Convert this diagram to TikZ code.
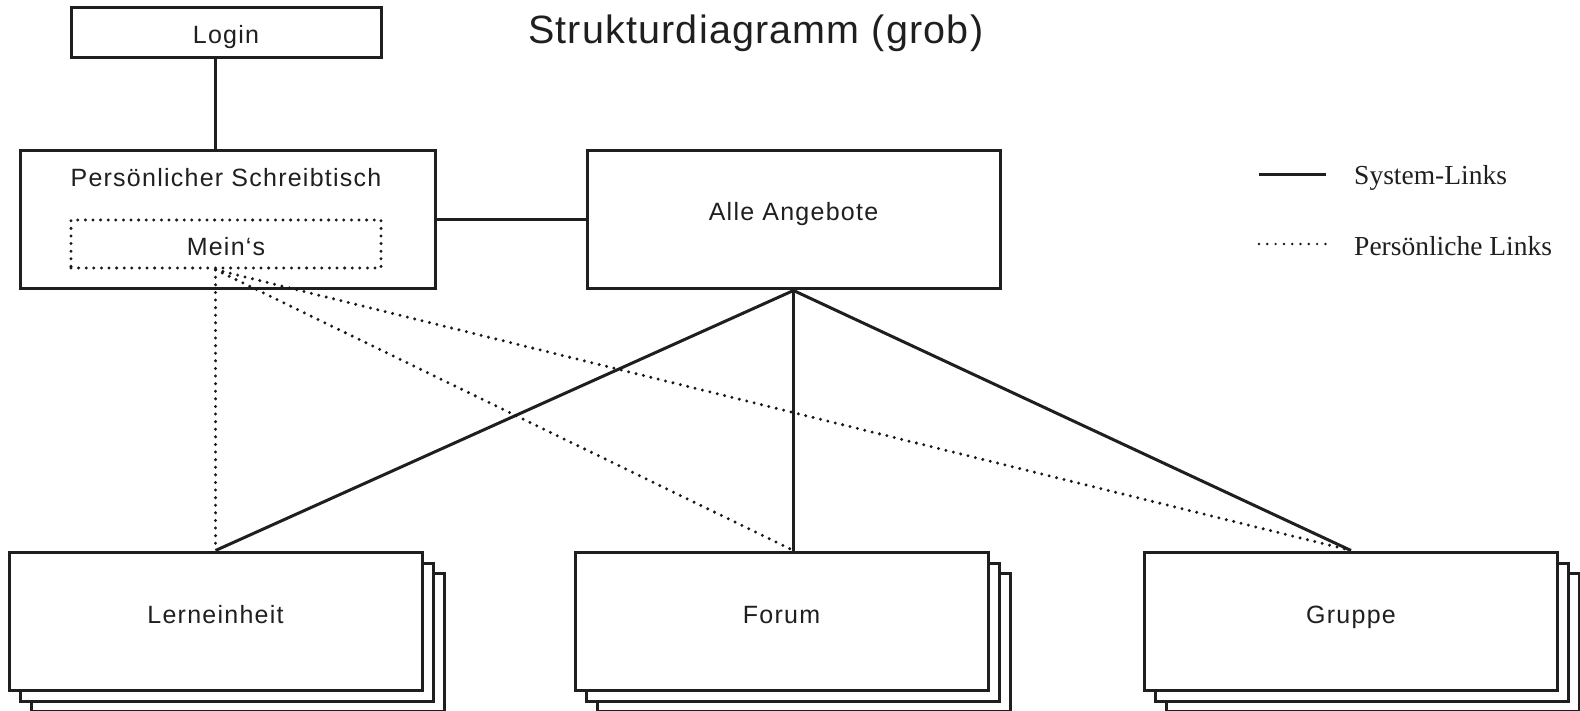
\documentclass[tikz,border=0pt]{standalone}
\usepackage{fontspec}
\setmainfont{Liberation Serif}
\newfontfamily\diafont[LetterSpace=5]{Liberation Sans}
\newfontfamily\titlefont[LetterSpace=3]{Liberation Sans}
\usetikzlibrary{calc}

\begin{document}
\begin{tikzpicture}[x=1pt,y=-1pt,
    box/.style={draw=black!88, line width=3pt, fill=white, inner sep=0pt},
    backbox/.style={draw=black!88, line width=3pt, fill=white},
    syslink/.style={draw=black!88, line width=3pt},
    perslink/.style={draw=black!90, line width=3.3pt, line cap=round, dash pattern=on 0pt off 7.6pt},
    boxtext/.style={font=\diafont\fontsize{25}{29}\selectfont, text=black!88, anchor=base, inner sep=0pt},
    legtext/.style={font=\fontsize{27.5}{32}\selectfont, text=black!88, anchor=base west, inner sep=0pt}]
  \useasboundingbox (0,0) rectangle (1580,711);

  % Title
  \node[font=\titlefont\fontsize{39.5}{46}\selectfont, text=black!88, anchor=base west, inner sep=0pt] (title) at (528,44) {Strukturdiagramm (grob)};

  % Login
  \node[box, minimum width=310, minimum height=50] (login) at (226,33) {};
  \node[boxtext] (logintxt) at (226,44) {Login};

  % Persoenlicher Schreibtisch with Mein's
  \node[box, minimum width=415, minimum height=138] (ps) at (227.5,220) {};
  \node[boxtext] (pstxt) at (226,187) {Persönlicher Schreibtisch};
  \node[box, perslink, fill=none, minimum width=310, minimum height=48] (meins) at (226,244) {};
  \node[boxtext] (meinstxt) at (226,256) {Mein‘s};

  % Alle Angebote
  \node[box, minimum width=413, minimum height=138] (aa) at (793.5,220) {};
  \node[boxtext] (aatxt) at (793.5,221) {Alle Angebote};

  % Stacked boxes
  \foreach \nm/\cx/\txt in {lern/215.5/Lerneinheit, forum/781.5/Forum, grp/1351/Gruppe}{
    \draw[backbox] (\cx-206.5+22,552+21) rectangle ++(413,138);
    \draw[backbox] (\cx-206.5+11,552+11) rectangle ++(413,138);
    \node[box, minimum width=413, minimum height=138] (\nm) at (\cx,621) {};
    \node[boxtext] (\nm txt) at (\cx,623) {\txt};
  }

  % System-Links
  \draw[syslink] (login.south -| lern.north) -- (ps.north -| lern.north);
  \draw[syslink] (ps.east) -- (aa.west);
  \draw[syslink] (aa.south) -- (lern.north);
  \draw[syslink] (aa.south) -- (forum.north -| aa.south);
  \draw[syslink] (aa.south) -- (grp.north);

  % Persoenliche Links
  \coordinate (mfoot) at (meins.south -| lern.north);
  \draw[perslink] (mfoot) -- (lern.north);
  \draw[perslink] (mfoot) -- (forum.north -| aa.south);
  \draw[perslink] (mfoot) -- (grp.north);

  % Legend
  \coordinate (sysA) at (1259,175);
  \coordinate (sysB) at (1326,175);
  \draw[syslink] (sysA) -- (sysB);
  \node[legtext] (systxt) at (1354,185) {System-Links};
  \coordinate (persA) at (1259,244);
  \coordinate (persB) at (1326,244);
  \draw[perslink, line width=2.7pt, dash pattern=on 0pt off 8.3pt] (persA) -- (persB);
  \node[legtext] (perstxt) at (1354,256) {Persönliche Links};
\end{tikzpicture}
\end{document}
